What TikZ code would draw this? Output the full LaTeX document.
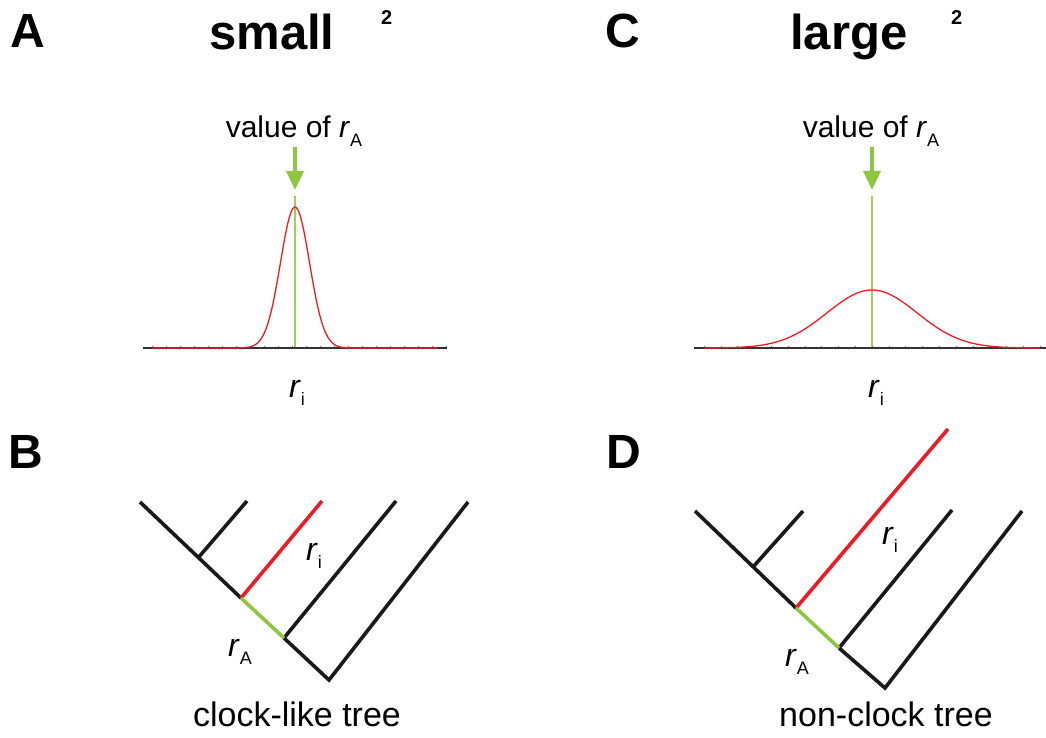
\documentclass[tikz,border=0pt]{standalone}
\usepackage{fontspec}
\setmainfont{Liberation Sans}
\usetikzlibrary{arrows.meta}
\definecolor{lgreen}{RGB}{141,198,63}
\definecolor{lred}{RGB}{237,28,36}
\definecolor{tick}{RGB}{120,120,120}
\tikzset{
  letter/.style={font=\fontsize{48}{48}\selectfont\bfseries, anchor=base west, inner sep=0},
  title/.style={font=\fontsize{49}{49}\selectfont\bfseries, anchor=base west, inner sep=0},
  sup/.style={font=\fontsize{20}{20}\selectfont\bfseries, anchor=base west, inner sep=0},
  lbl/.style={font=\fontsize{30}{30}\selectfont, anchor=base, inner sep=0},
  caption/.style={font=\fontsize{34}{34}\selectfont, anchor=base, inner sep=0},
  rlbl/.style={font=\fontsize{32}{32}\selectfont, anchor=base, inner sep=0},
  axis/.style={line width=1.4pt, black!80},
  curve/.style={line width=1.3pt, lred},
  mark line/.style={line width=1.5pt, lgreen!85!white},
  pointer/.style={line width=3.5pt, lgreen, -{Triangle[length=19pt,width=17pt]}},
  branch/.style={line width=3.6pt, black!90, line cap=butt, line join=miter},
  redbranch/.style={line width=3.6pt, lred},
  greenbranch/.style={line width=3.6pt, lgreen},
}
\newcommand{\rsub}[1]{\textit{r}\kern0.0em\raisebox{-0.28em}{\fontsize{18}{18}\selectfont #1}}
\newcommand{\rsubsmall}[1]{\textit{r}\kern0.0em\raisebox{-0.28em}{\fontsize{18}{18}\selectfont #1}}
\begin{document}
\begin{tikzpicture}[x=1pt,y=-1pt]
\useasboundingbox (0,0) rectangle (1046,738);
% ---- letters and titles
\node[letter] (lA) at (10,48) {A};
\node[letter] (lB) at (8,468) {B};
\node[letter] (lC) at (605,48) {C};
\node[letter] (lD) at (606,468) {D};
\node[title] (tA) at (209,50) {small};
\node[sup] (sA) at (381,25) {2};
\node[title] (tC) at (790,50) {large};
\node[sup] (sC) at (951,25) {2};

% ---- panel A
\node[lbl] (vA) at (294,138) {value of \rsubsmall{A}};
\coordinate (aA1) at (295,147);
\coordinate (aA2) at (295,190);
\draw[pointer] (aA1) -- (aA2);
\coordinate (mA1) at (295,196);
\coordinate (mA2) at (295,348);
\draw[mark line] (mA1) -- (mA2);
\coordinate (xA1) at (143,348);
\coordinate (xA2) at (447,348);
\foreach \t in {0,...,21} \draw[tick, line width=0.5pt] (152+14*\t,348) -- (152+14*\t,345.5);
\draw[axis] (xA1) -- (xA2);
\draw[curve] plot[domain=152:438, samples=160, smooth] (\x, {348-141*exp(-min(((\x-295)/14.5)^2/2,15))});
\node[rlbl] (riA) at (297,397) {\rsub{i}};

% ---- panel C
\node[lbl] (vC) at (871,138) {value of \rsubsmall{A}};
\coordinate (aC1) at (872,147);
\coordinate (aC2) at (872,190);
\draw[pointer] (aC1) -- (aC2);
\coordinate (mC1) at (872,196);
\coordinate (mC2) at (872,348);
\draw[mark line] (mC1) -- (mC2);
\coordinate (xC1) at (694,348);
\coordinate (xC2) at (1046,348);
\foreach \t in {0,...,20} \draw[tick, line width=0.5pt] (704+16.8*\t,348) -- (704+16.8*\t,345.5);
\draw[axis] (xC1) -- (xC2);
\draw[curve] plot[domain=704:1040, samples=160, smooth] (\x, {348-58*exp(-min(((\x-872)/45)^2/2,15))});
\node[rlbl] (riC) at (876,397) {\rsub{i}};

% ---- tree B
\coordinate (b0) at (140,502);
\coordinate (b1) at (198,558);
\coordinate (b1t) at (247,501);
\coordinate (b2) at (241,598);
\coordinate (b2t) at (322,501);
\coordinate (b3) at (284,638);
\coordinate (b3t) at (396,501);
\coordinate (br) at (329,680);
\coordinate (brt) at (468,502);
\draw[branch] (b0) -- (b2);
\draw[branch] (b1) -- (b1t);
\draw[branch] (b3) -- (br) -- (brt);
\draw[branch] (b3) -- (b3t);
\draw[redbranch] (b2) -- (b2t);
\draw[greenbranch] (b2) -- (b3);
\node[rlbl] (riB) at (314,560) {\rsub{i}};
\node[rlbl] (rAB) at (240,656) {\rsub{A}};
\node[caption] (capB) at (297,726) {clock-like tree};

% ---- tree D
\coordinate (d0) at (695,511);
\coordinate (d1) at (753,567);
\coordinate (d1t) at (803,511);
\coordinate (d2) at (796,608);
\coordinate (d2t) at (948,429);
\coordinate (d3) at (839,648);
\coordinate (d3t) at (952,510);
\coordinate (dr) at (885,688);
\coordinate (drt) at (1022,511);
\draw[branch] (d0) -- (d2);
\draw[branch] (d1) -- (d1t);
\draw[branch] (d3) -- (dr) -- (drt);
\draw[branch] (d3) -- (d3t);
\draw[redbranch] (d2) -- (d2t);
\draw[greenbranch] (d2) -- (d3);
\node[rlbl] (riD) at (890,544) {\rsub{i}};
\node[rlbl] (rAD) at (797,666) {\rsub{A}};
\node[caption] (capD) at (886,726) {non-clock tree};
\end{tikzpicture}
\end{document}
